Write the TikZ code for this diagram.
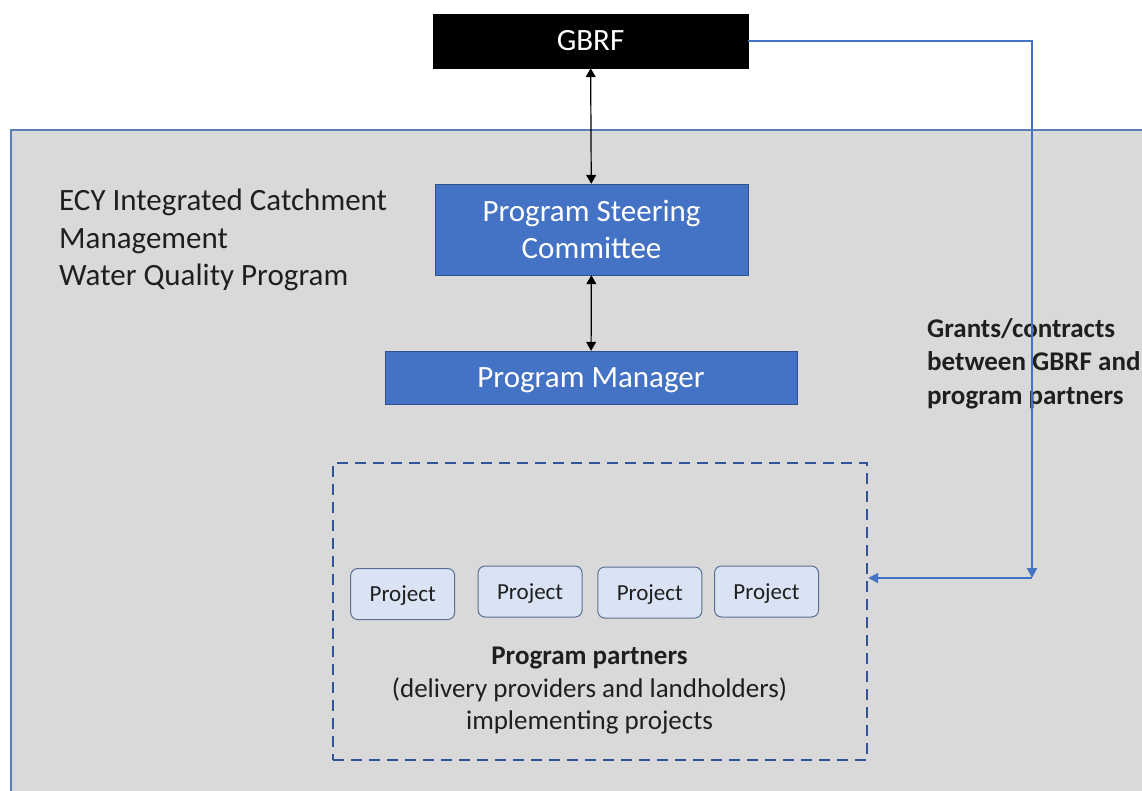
\documentclass[tikz,border=0pt]{standalone}
\usepackage{fontspec}
\setmainfont{Carlito}
\usetikzlibrary{arrows.meta}
\definecolor{panelgrey}{HTML}{D9D9D9}
\definecolor{paneledge}{HTML}{5B7DB8}
\definecolor{boxblue}{HTML}{4472C4}
\definecolor{boxedge}{HTML}{2F528F}
\definecolor{projfill}{HTML}{DAE3F3}
\definecolor{projedge}{HTML}{5A6F96}
\definecolor{dashblue}{HTML}{2F5597}
\definecolor{inktext}{HTML}{1F1F1F}

\begin{document}
\begin{tikzpicture}[x=1pt,y=-1pt] % структура программы
\tikzstyle{headbox} = [draw=black, fill=black, text=white, minimum width=315pt, minimum height=54pt, inner sep=0pt, font=\fontsize{31}{37}\selectfont] % верхний блок
\tikzstyle{bluebox} = [draw=boxedge, fill=boxblue, text=white, inner sep=0pt, align=center, font=\fontsize{31}{37}\selectfont] % синие блоки
\tikzstyle{project} = [draw=projedge, fill=projfill, line width=1pt, rounded corners=7pt, minimum width=104pt, minimum height=51pt, inner sep=0pt, text depth=0pt, text=inktext, font=\fontsize{23}{28}\selectfont] % проекты
\tikzstyle{twoway} = [black, line width=1.2pt, {Triangle[length=9pt,width=10pt]}-{Triangle[length=9pt,width=10pt]}] % стрелки в обе стороны
\tikzstyle{grant} = [boxblue, line width=2pt, -{Triangle[length=10pt,width=10pt]}] % синие стрелки

\clip (0,0) rectangle (1142,790);
\fill[white] (0,0) rectangle (1142,790);
\filldraw[fill=panelgrey, draw=paneledge, line width=1.2pt] (11,130) rectangle (1160,810); % серая область

\node[headbox] (gbrf) at (590.5,41) {GBRF};
\node[bluebox, minimum width=313pt, minimum height=91pt] (psc) at (591.5,229.5) {Program Steering\\Committee};
\node[bluebox, minimum width=412pt, minimum height=53pt, text depth=0pt] (pm) at (591,377.5) {Program Manager};

\node[anchor=west, align=left, inner sep=0pt, text=inktext, font=\fontsize{31}{37.5}\selectfont] (title) at (59,240) {ECY Integrated Catchment\\Management\\Water Quality Program};

% рамка партнёров
\node[draw=dashblue, line width=2.4pt, dash pattern=on 11pt off 7pt, minimum width=534pt, minimum height=297pt, inner sep=0pt] (partners) at (600,611.5) {};
\foreach \x/\y [count=\i] in {402.7/594, 530.1/591.5, 649.8/592.5, 766.5/591.5}
	\node[project] (proj\i) at (\x,\y) {Project};
\node[align=center, inner sep=0pt, text=inktext, font=\fontsize{27}{32.5}\selectfont] (ppl) at (589.5,691) {\textbf{Program partners}\\(delivery providers and landholders)\\implementing projects};

\node[anchor=west, align=left, inner sep=0pt, text=inktext, font=\bfseries\fontsize{27}{33.5}\selectfont] (grantnote) at (927,363.5) {Grants/contracts\\between GBRF and\\program partners};

\draw[twoway] (gbrf) -- (psc);
\draw[twoway] (psc) -- (pm);

\coordinate (turn) at (1032,578);
\draw[grant] (gbrf.east) -| (turn);
\draw[grant] (turn) -- (partners.east |- turn);
\end{tikzpicture}
\end{document}
